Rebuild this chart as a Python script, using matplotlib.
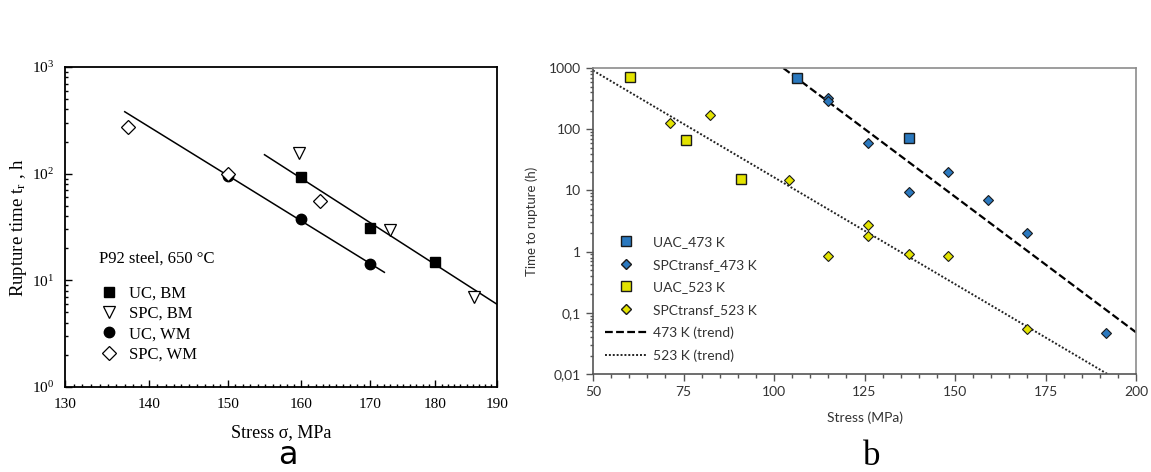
import matplotlib.pyplot as plt
import matplotlib.ticker as mticker
from matplotlib.lines import Line2D
import numpy as np

# --- panel a : P92 steel, 650 C ---
uc_bm_stress = [160, 170, 180]
uc_bm_time = [93, 31, 14.8]
spc_bm_stress = [159.7, 172.9, 186.2]
spc_bm_time = [156, 29.8, 7.0]
uc_wm_stress = [150, 160, 170]
uc_wm_time = [94.7, 37.9, 14.2]
spc_wm_stress = [137.4, 150, 162.6]
spc_wm_time = [272, 99.5, 55]
wm_fit_stress = [137.0, 172.1]
wm_fit_time = [381, 11.9]
bm_fit_stress = [154.9, 190]
bm_fit_time = [150.6, 5.97]
a_xticks = [130, 140, 150, 160, 170, 180, 190]

# --- panel b ---
uac473_stress = [106.4, 137.3]
uac473_time = [687, 73]
spc473_stress = [115.0, 115.0, 126.1, 148.0, 137.2, 159.0, 170.0, 191.8]
spc473_time = [328, 290, 59.7, 19.8, 9.5, 6.9, 2.03, 0.047]
uac523_stress = [60.3, 75.7, 90.9]
uac523_time = [713, 66.8, 15.4]
spc523_stress = [71.2, 82.3, 104.2, 126.1, 126.1, 115.0, 137.2, 148.1, 170.0]
spc523_time = [126, 169, 15.0, 2.77, 1.79, 0.865, 0.92, 0.84, 0.055]
trend473_stress = [102.6, 200]
trend473_time = [1000, 0.048]
trend523_stress = [50, 192.1]
trend523_time = [916, 0.01]
b_yticks = [0.01, 0.1, 1, 10, 100, 1000]

plt.rcParams['mathtext.fontset'] = 'stix'
fig = plt.figure(figsize=(11.51, 4.72), dpi=100)

# ---------------- panel a ----------------
serif = 'Liberation Serif'
ax1 = fig.add_axes([0.0565, 0.180, 0.3753, 0.678])
ax1.set_xscale('log')
ax1.set_yscale('log')
ax1.plot(wm_fit_stress, wm_fit_time, color='black', lw=1.1)
ax1.plot(bm_fit_stress, bm_fit_time, color='black', lw=1.1)
ax1.plot(uc_bm_stress, uc_bm_time, 's', color='black', ms=7, label='UC, BM')
ax1.plot(spc_bm_stress, spc_bm_time, 'v', mfc='white', mec='black', mew=0.9, ms=9, label='SPC, BM')
ax1.plot(uc_wm_stress, uc_wm_time, 'o', color='black', ms=7.5, label='UC, WM')
ax1.plot(spc_wm_stress, spc_wm_time, 'D', mfc='white', mec='black', mew=0.9, ms=7, label='SPC, WM')
ax1.set_xlim(130, 190)
ax1.set_ylim(1, 1000)
ax1.xaxis.set_major_locator(mticker.FixedLocator(a_xticks))
ax1.xaxis.set_major_formatter(mticker.FixedFormatter([str(t) for t in a_xticks]))
ax1.xaxis.set_minor_locator(mticker.FixedLocator(np.arange(131, 190)))
ax1.xaxis.set_minor_formatter(mticker.NullFormatter())
ax1.yaxis.set_major_locator(mticker.LogLocator(base=10))
ax1.yaxis.set_minor_locator(mticker.LogLocator(base=10, subs=np.arange(2, 10)))
ax1.yaxis.set_minor_formatter(mticker.NullFormatter())
ax1.tick_params(which='both', direction='in', top=False, right=False, labelsize=11, width=1)
ax1.tick_params(which='major', length=5)
ax1.tick_params(which='minor', length=2.5)
ax1.tick_params(axis='x', which='major', pad=8)
ax1.tick_params(axis='y', which='major', pad=8)
for lab in ax1.get_xticklabels() + ax1.get_yticklabels():
    lab.set_fontfamily(serif)
for s in ax1.spines.values():
    s.set_linewidth(1.3)
ax1.set_xlabel('Stress σ, MPa', fontsize=13, fontfamily=serif, labelpad=9)
ax1.set_ylabel('Rupture time t$_\\mathregular{r}$ , h', fontsize=13.5, fontfamily=serif, labelpad=2)
leg1 = ax1.legend(loc='lower left', bbox_to_anchor=(0.045, 0.03), frameon=False,
                  title='P92 steel, 650 °C', prop={'family': serif, 'size': 12},
                  handletextpad=0.6, labelspacing=0.25, handlelength=1.2)
leg1.get_title().set_fontfamily(serif)
leg1.get_title().set_fontsize(12)
leg1._legend_box.align = 'left'
leg1._legend_box.sep = 14
fig.text(0.250, 0.018, 'a', fontsize=23, ha='center', fontfamily='DejaVu Sans')

# ---------------- panel b ----------------
sans = 'Lato'
blue = '#2a78be'
yellow = '#e3e300'
ax2 = fig.add_axes([0.5152, 0.2076, 0.4718, 0.648])
ax2.set_yscale('log')
ax2.plot(trend473_stress, trend473_time, color='black', ls=(0, (3.5, 1.5)), lw=1.6)
ax2.plot(trend523_stress, trend523_time, color='#222222', ls=(0, (1, 1)), lw=1.4)
ax2.plot(uac473_stress, uac473_time, 's', mfc=blue, mec='#1a1a1a', mew=1.0, ms=7.5, ls='none')
ax2.plot(spc473_stress, spc473_time, 'D', mfc=blue, mec='#1a1a1a', mew=0.8, ms=5.5, ls='none')
ax2.plot(uac523_stress, uac523_time, 's', mfc=yellow, mec='#1a1a1a', mew=1.0, ms=7.5, ls='none')
ax2.plot(spc523_stress, spc523_time, 'D', mfc=yellow, mec='#1a1a1a', mew=0.8, ms=5.5, ls='none')
ax2.set_xlim(50, 200)
ax2.set_ylim(0.01, 1000)
ax2.xaxis.set_major_locator(mticker.MultipleLocator(25))
ax2.xaxis.set_minor_locator(mticker.MultipleLocator(5))
ax2.yaxis.set_major_locator(mticker.FixedLocator(b_yticks))
ax2.yaxis.set_major_formatter(mticker.FuncFormatter(lambda v, p: ('%g' % v).replace('.', ',')))
ax2.yaxis.set_minor_locator(mticker.LogLocator(base=10, subs=np.arange(2, 10)))
ax2.yaxis.set_minor_formatter(mticker.NullFormatter())
ax2.tick_params(which='both', direction='out', labelsize=10, color='#555555', width=1)
ax2.tick_params(which='major', length=5)
ax2.tick_params(which='minor', length=3)
ax2.tick_params(axis='y', which='minor', length=2.5)
for lab in ax2.get_xticklabels() + ax2.get_yticklabels():
    lab.set_fontfamily(sans)
    lab.set_color('#333333')
for side in ['top', 'right']:
    ax2.spines[side].set_color('#8c8c8c')
    ax2.spines[side].set_linewidth(1.2)
for side in ['left', 'bottom']:
    ax2.spines[side].set_color('#555555')
    ax2.spines[side].set_linewidth(1.2)
ax2.set_xlabel('Stress (MPa)', fontsize=10, fontfamily=sans, color='#333333', labelpad=10)
ax2.set_ylabel('Time to rupture (h)', fontsize=9.5, fontfamily=sans, color='#333333', labelpad=8)

handles = [
    Line2D([], [], ls='none', marker='s', mfc=blue, mec='#1a1a1a', ms=7),
    Line2D([], [], ls='none', marker='D', mfc=blue, mec='#1a1a1a', ms=5),
    Line2D([], [], ls='none', marker='s', mfc=yellow, mec='#1a1a1a', ms=7),
    Line2D([], [], ls='none', marker='D', mfc=yellow, mec='#1a1a1a', ms=5),
    Line2D([], [], color='black', ls=(0, (3.5, 1.5)), lw=1.6),
    Line2D([], [], color='#222222', ls=(0, (1, 1)), lw=1.4),
]
labels = ['UAC_473 K', 'SPCtransf_473 K', 'UAC_523 K', 'SPCtransf_523 K',
          '473 K (trend)', '523 K (trend)']
ax2.legend(handles, labels, loc='lower left', bbox_to_anchor=(0.0, 0.0), frameon=False,
           prop={'family': sans, 'size': 10}, handlelength=3.0, handletextpad=0.4,
           labelspacing=0.75, labelcolor='#333333')
fig.text(0.757, 0.015, 'b', fontsize=25, ha='center', fontfamily='Liberation Serif')

fig.savefig('out.png', dpi=100)
